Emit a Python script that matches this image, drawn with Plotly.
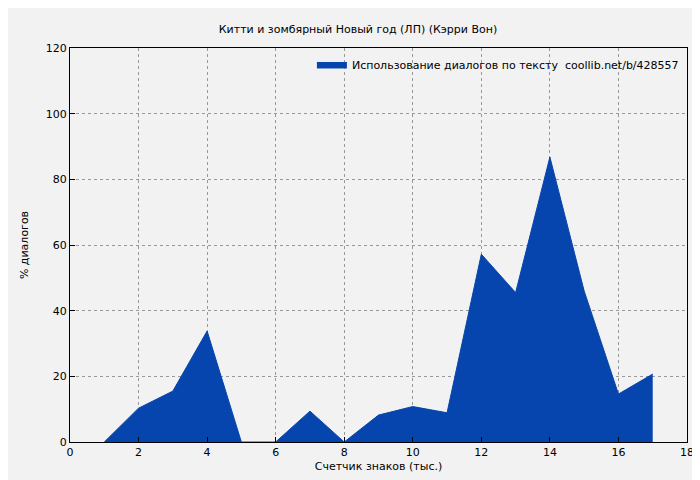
import plotly.graph_objects as go

x_vals = [1, 2, 3, 4, 5, 6, 7, 8, 9, 10, 11, 12, 13, 14, 15, 16, 17]
y_vals = [0, 10.3, 15.5, 33.8, 0, 0, 9.4, 0, 8.2, 10.8, 8.9, 57.2, 45.5, 86.8, 46, 14.6, 20.7]
x_ticks = [0, 2, 4, 6, 8, 10, 12, 14, 16, 18]
y_ticks = [0, 20, 40, 60, 80, 100, 120]

fig = go.Figure()
fig.add_trace(go.Scatter(
    x=x_vals, y=y_vals, mode="lines", fill="tozeroy",
    line=dict(color="#0645ad", width=1), fillcolor="#0645ad",
    name="Использование диалогов по тексту  coollib.net/b/428557"))

axis_common = dict(showgrid=True, gridcolor="#999999", griddash="dot", gridwidth=1,
                   showline=True, linecolor="black", mirror=True, ticks="inside",
                   ticklen=5, tickcolor="black", zeroline=False, automargin=False,
                   tickfont=dict(size=11, color="black"))

fig.update_layout(
    width=700, height=480,
    paper_bgcolor="#f2f2f2", plot_bgcolor="#f2f2f2",
    font=dict(family="DejaVu Sans", size=11, color="black"),
    margin=dict(l=62, r=21, t=40, b=46, autoexpand=False),
    title=dict(text="Китти и зомбярный Новый год (ЛП) (Кэрри Вон)", x=0.5, y=0.965,
               xanchor="center", font=dict(size=11)),
    xaxis=dict(range=[0, 18], tickvals=x_ticks,
               title=dict(text="Счетчик знаков (тыс.)", standoff=4, font=dict(size=11)),
               **axis_common),
    yaxis=dict(range=[0, 120], tickvals=y_ticks,
               title=dict(text="% диалогов", standoff=14, font=dict(size=11)),
               **axis_common),
    showlegend=True,
    legend=dict(x=0.995, y=0.995, xanchor="right", yanchor="top",
                bgcolor="rgba(0,0,0,0)", font=dict(size=11)),
)

fig.write_html("out.html")
